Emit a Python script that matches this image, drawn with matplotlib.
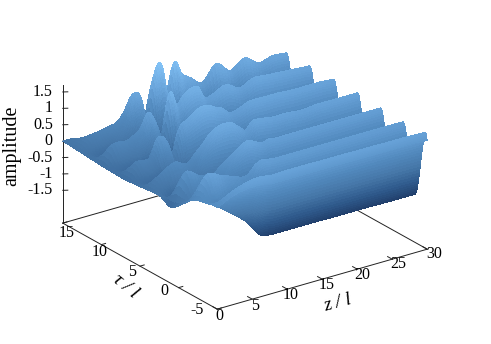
import numpy as np
import matplotlib
matplotlib.use('Agg')
import matplotlib.pyplot as plt
from matplotlib.colors import LinearSegmentedColormap
from mpl_toolkits.mplot3d import proj3d

plt.rcParams['font.family'] = ['Liberation Serif', 'DejaVu Serif']

# amplitude: one row per crest / trough line in tau
z_vals = [0, 2, 4, 5, 6, 7, 8, 9, 10, 11, 12, 13, 14, 15, 16, 18, 20, 22, 24, 26, 28, 30]
tau_vals = [-5, -4.7, -3.4, -1.9, -0.45, 1, 2.5, 4, 5.5, 7.1, 8.65, 10.2, 11.7, 13.2, 15]

amp_m50 = [.6, .8, .9, .92, .92, .9, .85, .85, .85, .85, .85, .85, .85, .85, .85, .85, .85, .85, .85, .85, .85, .82]
crest_0 = [.6, .84, .98, 1.02, 1.04, 1.0, .95, .96, .97, .97, .97, .97, .97, .96, .96, .96, .95, .95, .94, .94, .93, .92]
trough0 = [.53, .28, -.05, -.23, -.42, -.7, -.94, -1, -1.01, -1.01, -1.01, -1.01, -1.01, -1.01, -1.01, -1.02, -1.02, -1.02, -1.02, -1.03, -1.03, -1.03]
crest_1 = [.42, 1.07, .92, .84, .76, .67, .7, .95, 1.04, 1.0, .98, .98, .98, .98, .98, .98, .98, .98, .98, .98, .98, .98]
trough1 = [.1, .2, .1, .05, 0, -.1, -.3, -.5, -.7, -.9, -1, -1, -1, -1, -1, -1, -1, -1, -1, -1, -1, -1]
crest_2 = [-.18, .75, .55, .5, .44, .6, .78, .93, 1.09, 1.18, 1.09, .99, 1.05, 1.02, 1.02, 1.02, 1.02, 1.02, 1.02, 1.02, 1.02, 1.02]
trough2 = [-.02, -.3, -.3, -.3, -.3, -.3, -.4, -.7, -.9, -1, -1, -1, -1, -1, -1, -1, -1, -1, -1, -1, -1, -1]
crest_3 = [-.05, .3, .55, .45, .44, .69, .9, 1.15, 1.27, 1.31, 1.27, 1.09, .93, 1.15, 1.15, 1.09, 1.09, 1.05, 1.09, 1.09, 1.09, 1.09]
trough3 = [-.09, -.2, -.25, -.28, -.3, -.6, -.7, -.8, -.9, -1, -1, -1, -1, -1, -1, -1, -1, -1, -1, -1, -1, -1]
crest_4 = [-.12, .28, .28, .85, .7, .12, .95, 1.13, 1.28, 1.4, 1.4, 1.28, 1.19, 1.0, 1.0, 1.16, 1.16, 1.16, 1.13, 1.13, 1.13, 1.1]
trough4 = [-.11, -.2, -.25, -.4, -.5, -.7, -.8, -.8, -.9, -1, -1, -1, -1, -1, -1, -1, -1, -1, -1, -1, -1, -1]
crest_5 = [-.09, .4, .4, .5, .67, 1.07, .7, .2, 1.5, 1.07, 1.31, 1.44, 1.44, 1.04, 1.07, 1.25, 1.04, 1.22, 1.19, 1.16, 1.13, 1.1]
trough5 = [-.06, -.2, -.3, -.3, -.4, -.5, -.6, -.9, -1, -.8, -1, -1, -1, -1, -1, -1, -1, -1, -1, -1, -1, -1]
crest_6 = [-.03, .21, .34, .4, .46, .73, 1.16, 1.1, .3, 1.44, 1.9, .9, 1.8, 1.38, 1.22, .92, 1.38, 1.04, 1.31, 1.04, 1.13, 1.1]
trough6 = [0, -.03, -.3, -.4, -.5, -.6, -.8, -.9, -1, -1, -1, -1, -1, -1, -1, -1, -1, -1, -1, -1, -1, -1]

amp_ticks = [-1.5, -1, -0.5, 0, 0.5, 1, 1.5]
amp_labels = ['-1.5', '-1', '-0.5', '0', '0.5', '1', '1.5']
z_ticks = [0, 5, 10, 15, 20, 25, 30]
tau_ticks = [-5, 0, 5, 10, 15]


def smooth(a, n, axis):
    # finer mesh for the shading, same job as pm3d interpolate
    a = np.moveaxis(np.asarray(a, float), axis, 0)
    p = np.concatenate([a[:1], a, a[-1:]])
    out = []
    for i in range(len(a) - 1):
        for k in range(n):
            u = k / n
            out.append(p[i + 1] + 0.5 * u * (p[i + 2] - p[i]
                       + u * (2 * p[i] - 5 * p[i + 1] + 4 * p[i + 2] - p[i + 3]
                              + u * (3 * p[i + 1] - p[i] - 3 * p[i + 2] + p[i + 3]))))
    out.append(a[-1])
    return np.moveaxis(np.array(out), 0, axis)


amp = np.array([amp_m50, crest_0, trough0, crest_1, trough1, crest_2, trough2, crest_3,
                trough3, crest_4, trough4, crest_5, trough5, crest_6, trough6])
nt, nz = 28, 5
fine = smooth(smooth(amp, nt, 0), nz, 1)
zz = np.interp(np.arange(fine.shape[1]) / nz, np.arange(len(z_vals)), z_vals)
tt = np.interp(np.arange(fine.shape[0]) / nt, np.arange(len(tau_vals)), tau_vals)
Z, T = np.meshgrid(zz, tt)

cmap = LinearSegmentedColormap.from_list('amp', [(0, '#1d3863'), (0.2, '#2f5a8c'), (0.367, '#4677a8'),
                                                (0.533, '#5289bd'), (0.7, '#659fd5'), (1, '#84c4f8')])
cols = cmap((fine + 1.1) / 3.0)

fig = plt.figure(figsize=(4.91, 3.44), dpi=100)
ax = fig.add_axes([-63.1 / 491, -131.4 / 344, 600 / 491, 600 / 344], projection='3d', proj_type='ortho')
ax.set_xlim(0, 30)
ax.set_ylim(-5, 15)
ax.set_zlim(-2.5, 1.7)
ax.set_box_aspect((258, 265, 150), zoom=0.6465)
ax.view_init(elev=23.5, azim=-125.6)
ax.set_axis_off()
ax.computed_zorder = False
ax.patch.set_alpha(0)

lc = dict(color='#222222', lw=0.7, zorder=1)
ax.plot([0, 30], [-5, -5], [-2.5, -2.5], **lc)
ax.plot([30, 30], [-5, 15], [-2.5, -2.5], **lc)
ax.plot([0, 0], [-5, 15], [-2.5, -2.5], **lc)
ax.plot([0, 30], [15, 15], [-2.5, -2.5], **lc)
ax.plot([0, 0], [15, 15], [-2.5, 1.7], **lc)

ax.plot_surface(Z, T, fine, rstride=1, cstride=1, facecolors=cols, shade=False,
                antialiased=False, linewidth=0, zorder=2)


def put(z, t, a, s, dx, dy, **kw):
    xp, yp, _ = proj3d.proj_transform(z, t, a, ax.get_proj())
    ax.annotate(s, (xp, yp), xytext=(dx, dy), textcoords='offset pixels', fontsize=11.5,
                va='center', zorder=5, **kw)


for v, s in zip(amp_ticks, amp_labels):
    ax.plot([0, 0.5], [15, 14.8], [v, v], **lc)
    put(0, 15, v, s, -10, 0, ha='right')
for v in z_ticks:
    ax.plot([v, v], [-5, -4.4], [-2.5, -2.5], **lc)
    put(v, -5, -2.5, str(v), 2 + v * 0.17, -7 + v * 0.07, ha='center')
for v in tau_ticks:
    ax.plot([0, 0.6], [v, v], [-2.5, -2.5], **lc)
    put(0, v, -2.5, str(v), 4 - (15 - v) * 1.2, -10 + (15 - v) * 0.45, ha='center')

fig.text(12 / 491, 1 - 146 / 344, 'amplitude', rotation=90, fontsize=14.5, ha='center', va='center')
fig.text(338 / 491, 1 - 303 / 344, 'z / l', rotation=15, fontsize=14, style='italic', ha='center', va='center')
fig.text(125 / 491, 1 - 286 / 344, 'τ / l', rotation=-40, fontsize=14, style='italic', ha='center', va='center')

fig.savefig('out.png', dpi=100)
